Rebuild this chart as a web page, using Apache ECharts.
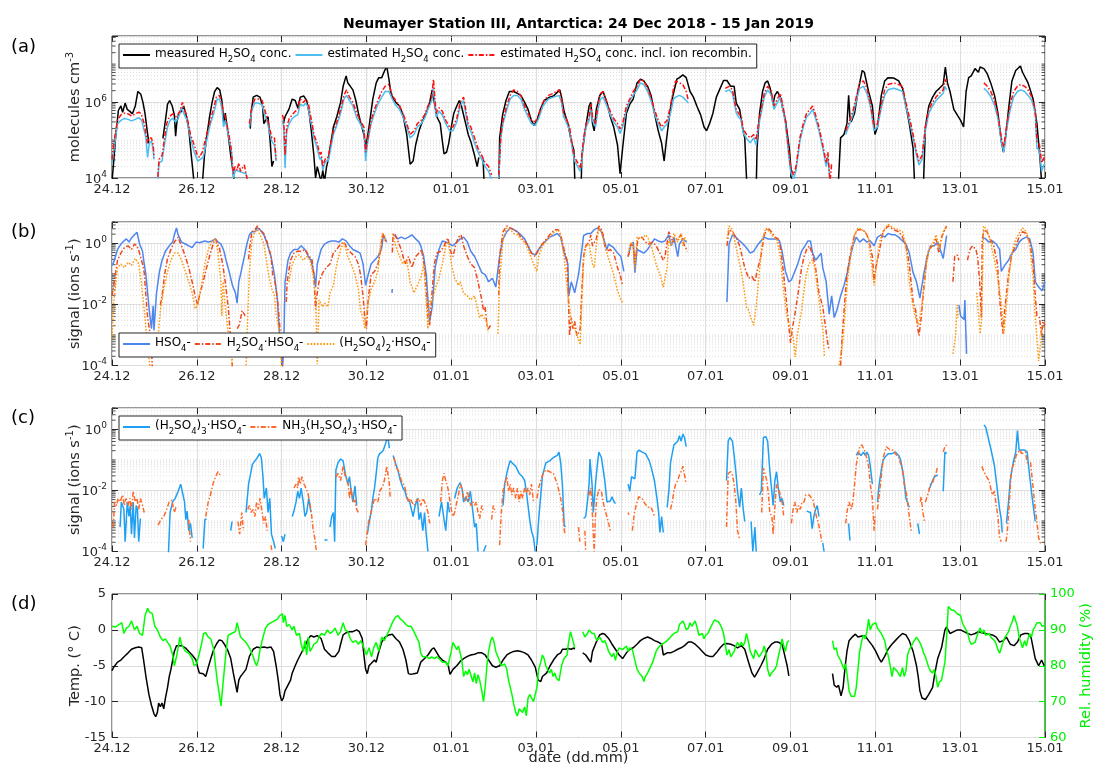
<!DOCTYPE html>
<html><head><meta charset="utf-8">
<script src="https://cdn.jsdelivr.net/npm/echarts@6/dist/echarts.min.js"></script>
<style>html,body{margin:0;padding:0;background:#fff}#c{width:1095px;height:765px}</style>
</head><body><div id="c"></div><script>
// x values: days since 24 Dec 2018 00:00
const dateLabels = ['24.12','26.12','28.12','30.12','01.01','03.01','05.01','07.01','09.01','11.01','13.01','15.01'];

// ---------- panel (a): H2SO4 concentration (molecules cm-3) ----------
const measuredH2SO4 = [[0,8e3],[0.03,2e4],[0.08,1e5],[0.15,6e5],[0.21,7.9e5],[0.25,5.4e5],[0.31,9.4e5],[0.36,6.4e5],[0.42,5.7e5],[0.48,4.9e5],[0.55,7.9e5],[0.61,1.9e6],[0.68,1.6e6],[0.73,9.8e5],[0.78,4.9e5],[0.83,1.75e5],[0.87,8.2e4],null,
[1.2,1.1e5],[1.26,3.3e5],[1.31,8.8e5],[1.36,1.1e6],[1.42,7.9e5],[1.47,4.6e5],[1.5,1.27e5],[1.53,3e5],[1.58,5.1e5],[1.64,5.7e5],[1.69,7.9e5],[1.74,4.9e5],[1.81,1.95e5],[1.87,3.9e4],[1.92,1.1e4],[1.95,5e3],null,
[2.12,5e3],[2.18,3.9e4],[2.23,1.14e5],[2.3,4.1e5],[2.36,9.8e5],[2.42,1.9e6],[2.48,2.4e6],[2.54,2.1e6],[2.59,1.1e6],[2.64,2.7e5],[2.67,5.1e5],[2.74,1.4e5],[2.8,3.9e4],[2.86,1.3e4],[2.9,5e3],null,
[3.26,2e5],[3.28,5.1e5],[3.33,1.35e6],[3.41,1.5e6],[3.49,1.35e6],[3.55,7.9e5],[3.58,2.7e5],[3.62,3.3e5],[3.68,4.1e5],[3.73,9.2e4],[3.77,2e4],[3.81,2.8e4],null,
[4.04,2.7e5],[4.08,4.1e5],[4.17,6.4e5],[4.25,1.2e6],[4.32,1.1e6],[4.38,7.1e5],[4.44,1.35e6],[4.52,1.45e6],[4.59,1.1e6],[4.65,5.1e5],[4.7,1.75e5],[4.76,3.9e4],[4.8,1e4],[4.84,2e4],[4.88,2e4],[4.93,8e3],[4.97,1.6e4],[5.01,8e3],[5.06,2e4],[5.1,3e4],[5.14,6e4],[5.22,2.2e5],[5.3,4.1e5],[5.39,9.8e5],[5.45,2.6e6],[5.52,4.9e6],[5.56,3.2e6],[5.62,2.6e6],[5.68,2.1e6],[5.75,1.1e6],[5.81,5.1e5],[5.87,2.7e5],[5.94,1.4e5],[5.98,6.6e4],[6.02,1.14e5],[6.06,2.2e5],[6.15,1.2e6],[6.23,3.2e6],[6.29,4.4e6],[6.36,4.4e6],[6.43,6.8e6],[6.48,8.4e6],[6.53,4e6],[6.57,1.9e6],[6.61,1.35e6],[6.69,9.8e5],[6.78,7.9e5],[6.86,4.6e5],[6.95,1.4e5],[7.03,2.3e4],[7.1,2.8e4],[7.16,7.4e4],[7.24,1.75e5],[7.33,3.3e5],[7.41,5.1e5],[7.49,9.8e5],[7.55,2.1e6],[7.6,9.8e5],[7.66,4.1e5],[7.74,2.7e5],[7.78,1.14e5],[7.83,4.3e4],[7.89,4.8e4],[7.94,8.2e4],[8.0,2.2e5],[8.06,5.1e5],[8.13,7.9e5],[8.19,1.1e6],[8.24,7.9e5],[8.3,4.1e5],[8.34,2.7e5],[8.4,1.4e5],[8.46,9.2e4],[8.55,3.9e4],[8.61,2e4],[8.65,3.5e4],null,
[8.75,3.1e4],[8.78,5e3],null,
[9.12,5e3],[9.14,1.14e5],[9.21,4.6e5],[9.29,1.1e6],[9.37,1.9e6],[9.47,1.9e6],[9.56,1.7e6],[9.64,1.5e6],[9.73,9.8e5],[9.81,6.4e5],[9.89,3.3e5],[9.95,2.4e5],[10.02,3.3e5],[10.1,6.4e5],[10.19,1.1e6],[10.32,1.35e6],[10.41,1.45e6],[10.56,2.1e6],[10.6,1.35e6],[10.66,5.7e5],[10.75,2.7e5],[10.83,9.2e4],[10.89,5.4e4],[10.92,5e3],null,
[11.06,5e3],[11.08,3.9e4],[11.17,2.2e5],[11.25,7.9e5],[11.29,9.8e5],[11.33,2.7e5],[11.37,1.75e5],[11.42,6.4e5],[11.5,1.5e6],[11.58,1.9e6],[11.67,9.8e5],[11.75,4.1e5],[11.83,2.2e5],[11.92,7.4e4],[11.98,1.3e4],[12.04,6e4],[12.13,5.1e5],[12.21,8.8e5],[12.29,1.2e6],[12.38,3.2e6],[12.46,4e6],[12.54,3.6e6],[12.63,2.6e6],[12.71,1.5e6],[12.79,5.1e5],[12.88,1.75e5],[12.96,8.2e4],[13.02,2.8e4],[13.07,9.2e4],[13.13,3.3e5],[13.19,9.8e5],[13.25,1.9e6],[13.32,4e6],[13.38,4.4e6],[13.46,5.2e6],[13.54,4.4e6],[13.63,1.9e6],[13.71,1.35e6],[13.79,7.9e5],[13.88,4.6e5],[13.96,2.2e5],[14.02,1.75e5],[14.09,2.7e5],[14.17,5.1e5],[14.25,1.35e6],[14.34,2.3e6],[14.42,3.7e6],[14.5,3.7e6],[14.59,2.6e6],[14.67,2.6e6],[14.72,9.4e5],[14.8,6.4e5],[14.88,1.75e5],[14.92,1.14e5],[14.96,1.1e4],[14.98,5e3],null,
[15.19,5e3],[15.21,6e4],[15.27,5.1e5],[15.34,1.9e6],[15.4,3.2e6],[15.46,3.6e6],[15.52,2.3e6],[15.59,8.8e5],[15.63,1.5e6],[15.69,1.9e6],[15.76,1.35e6],[15.82,6.4e5],[15.88,3.3e5],[15.97,6e4],[16.02,1.3e4],[16.05,5e3],null,
[17.12,5e3],[17.18,1.14e5],[17.26,1.4e5],[17.33,2.7e5],[17.37,1.5e6],[17.4,4e5],[17.43,3e5],[17.51,5.1e5],[17.59,1.9e6],[17.69,6.8e6],[17.74,6.1e6],[17.84,1.9e6],[17.93,7.9e5],[17.99,1.4e5],[18.05,2.2e5],[18.14,1.5e6],[18.22,3.6e6],[18.3,4.4e6],[18.43,4.3e6],[18.55,3.6e6],[18.64,2.3e6],[18.72,7.9e5],[18.8,2.7e5],[18.89,6e4],[18.93,5e3],null,
[19.13,5e3],[19.18,2.2e5],[19.26,7.9e5],[19.35,1.35e6],[19.43,1.9e6],[19.51,2.3e6],[19.6,2.9e6],[19.65,8.4e6],[19.7,3.2e6],[19.76,1.9e6],[19.85,6.4e5],[19.93,4.6e5],[20.01,3.3e5],[20.08,2.2e5],[20.14,1.9e6],[20.2,4.4e6],[20.26,4.9e6],[20.35,7.6e6],[20.43,6.1e6],[20.47,8.4e6],[20.56,7.6e6],[20.64,5.5e6],[20.72,3.2e6],[20.81,1.5e6],[20.89,5.1e5],[20.97,9.2e4],[21.02,4.8e4],[21.08,1.4e5],[21.14,6.4e5],[21.22,3.6e6],[21.31,6.8e6],[21.42,8.9e6],[21.47,6.1e6],[21.6,3.2e6],[21.72,1.2e6],[21.81,2.7e5],[21.89,2.5e4],[21.93,5e3]];

const estimatedH2SO4 = [[0,2.5e4],[0.06,7.4e4],[0.13,2.7e5],[0.21,3.3e5],[0.29,3.7e5],[0.38,3.5e5],[0.46,3.2e5],[0.55,3.5e5],[0.63,3.9e5],[0.7,3.3e5],[0.76,1.75e5],[0.8,1.14e5],[0.84,3.5e4],[0.88,8.2e4],[0.93,9.2e4],[0.97,6e4],[0.99,3.1e4],null,
[1.08,9e3],[1.11,2.5e4],[1.18,2.8e4],[1.24,8.2e4],[1.31,2.2e5],[1.37,3.3e5],[1.43,3.7e5],[1.5,3e5],[1.56,3.7e5],[1.64,7.1e5],[1.71,4.6e5],[1.77,3.3e5],[1.85,1.14e5],[1.94,4.8e4],[2.02,2.8e4],[2.06,2.5e4],[2.15,3.5e4],[2.23,9.2e4],[2.32,2.7e5],[2.4,5.1e5],[2.48,1.2e6],[2.54,1.16e6],[2.59,7.1e5],[2.63,2.2e5],[2.67,3.3e5],[2.74,1.4e5],[2.82,4.8e4],[2.86,1e4],[2.91,1.6e4],[2.99,1.5e4],[3.07,1.4e4],[3.16,1.3e4],[3.2,8e3],null,
[3.24,2.2e5],[3.3,6.4e5],[3.37,9.4e5],[3.45,9.4e5],[3.54,8.5e5],[3.6,4.6e5],[3.65,3.3e5],[3.71,1.75e5],[3.77,9.2e4],[3.83,7.4e4],[3.87,2.8e4],null,
[4.02,3.3e5],[4.05,2.2e5],[4.08,1.8e4],[4.12,1.75e5],[4.18,2.7e5],[4.25,3.7e5],[4.32,4.3e5],[4.38,4.6e5],[4.44,8.8e5],[4.51,7.9e5],[4.57,9.4e5],[4.63,7.1e5],[4.67,3.7e5],[4.72,2.2e5],[4.76,1.14e5],[4.84,6e4],[4.9,3.1e4],[4.93,3.5e4],[4.97,1.6e4],[5.01,2.3e4],[5.05,2.8e4],[5.1,2.8e4],[5.14,4.8e4],[5.22,1.4e5],[5.3,2.4e5],[5.39,5.1e5],[5.47,1.2e6],[5.53,1.5e6],[5.6,1.1e6],[5.68,7.9e5],[5.77,3.9e5],[5.85,2.7e5],[5.94,1.75e5],[5.98,2.8e4],[6.02,7.4e4],[6.11,2.7e5],[6.19,5.1e5],[6.27,8.8e5],[6.36,1.35e6],[6.44,1.9e6],[6.53,1.9e6],[6.61,1.2e6],[6.69,8.2e5],[6.78,6.4e5],[6.86,4.1e5],[6.95,2.2e5],[7.03,1.14e5],[7.12,1.4e5],[7.2,2.2e5],[7.29,2.7e5],[7.37,3.7e5],[7.45,6.4e5],[7.54,1.1e6],[7.58,2.3e6],[7.64,4.1e5],[7.71,5.7e5],[7.79,4.6e5],[7.87,2.7e5],[7.96,1.75e5],[8.04,1.75e5],[8.13,3e5],[8.21,7.9e5],[8.29,1.1e6],[8.34,5.1e5],[8.4,2.2e5],[8.46,1.75e5],[8.55,8.2e4],[8.63,4.8e4],[8.72,3.1e4],[8.8,2e4],[8.88,1.5e4],[8.95,9e3],null,
[9.12,1e4],[9.17,1.14e5],[9.22,2.7e5],[9.31,6.4e5],[9.39,1.2e6],[9.47,1.5e6],[9.56,1.5e6],[9.64,1.2e6],[9.73,6.4e5],[9.81,4.1e5],[9.89,2.7e5],[9.98,2.4e5],[10.06,3.7e5],[10.16,7.9e5],[10.29,1.2e6],[10.41,1.35e6],[10.54,1.5e6],[10.6,9.8e5],[10.65,4.1e5],[10.71,3e5],[10.79,1.75e5],[10.88,3.9e4],[10.91,2.8e4],[11.0,1.8e4],[11.04,1.5e4],[11.08,3.1e4],[11.12,9.2e4],[11.18,2.2e5],[11.25,3.3e5],[11.29,6.4e5],[11.33,3.3e5],[11.4,2.2e5],[11.46,6.4e5],[11.52,1.2e6],[11.58,1.35e6],[11.67,7.9e5],[11.75,4.6e5],[11.83,3e5],[11.92,2.2e5],[11.98,1.5e5],[12.04,2.2e5],[12.13,6.4e5],[12.21,1.1e6],[12.29,1.5e6],[12.38,2.1e6],[12.46,3.2e6],[12.54,2.9e6],[12.63,1.9e6],[12.71,1.1e6],[12.79,5.1e5],[12.88,2.7e5],[12.96,1.75e5],[13.02,2.2e5],[13.09,2.7e5],[13.17,5.1e5],[13.24,1.2e6],[13.29,1.35e6],[13.38,1.5e6],[13.46,1.35e6],[13.54,1.1e6],[13.59,9.4e5],null,
[14.46,1.9e6],[14.55,2.1e6],[14.63,1.7e6],[14.72,5.1e5],[14.77,4.1e5],[14.84,3.3e5],[14.88,1.6e5],[14.96,1.1e5],[15.05,8.5e4],[15.13,1.14e5],[15.19,7.4e4],[15.24,2.2e5],[15.3,4.6e5],[15.38,1.35e6],[15.46,2.1e6],[15.55,1.5e6],[15.61,6.4e5],[15.67,8.8e5],[15.76,1.35e6],[15.82,6.4e5],[15.88,2.7e5],[15.95,4.8e4],[16.0,1.5e4],[16.07,9e3],[16.13,1.6e4],[16.22,9.2e4],[16.3,2.2e5],[16.38,4.1e5],[16.46,5.1e5],[16.52,6.4e5],[16.59,3.7e5],[16.67,1.75e5],[16.76,6e4],[16.84,2e4],[16.88,3.5e4],[16.93,8e3],null,
[17.3,1.4e5],[17.38,2.4e5],[17.47,4.6e5],[17.55,1.1e6],[17.63,2.3e6],[17.72,2.6e6],[17.8,1.7e6],[17.88,7.9e5],[17.97,1.75e5],[18.05,2.2e5],[18.14,7.1e5],[18.22,1.5e6],[18.3,2.1e6],[18.43,2.3e6],[18.55,2.1e6],[18.64,1.9e6],[18.72,7.9e5],[18.8,3.3e5],[18.89,1.14e5],[18.97,3.9e4],[19.03,2.2e4],[19.1,3.1e4],[19.18,1.75e5],[19.26,5.1e5],[19.35,7.9e5],[19.43,1.1e6],[19.51,1.35e6],[19.6,1.7e6],[19.64,2.6e6],[19.68,2.1e6],null,
[20.56,2.3e6],[20.64,1.9e6],[20.72,1.4e6],[20.81,8.2e5],[20.89,3.7e5],[20.97,9.2e4],[21.03,4.8e4],[21.09,1.75e5],[21.18,6.4e5],[21.26,1.35e6],[21.35,1.9e6],[21.43,2.1e6],[21.52,1.9e6],[21.6,1.5e6],[21.69,1.1e6],[21.77,5.1e5],[21.81,6e4],[21.87,5.4e4],[21.92,1.5e4],[21.98,2.3e4],[22,2.2e4]];

const estimatedRecH2SO4 = [[0,3.1e4],[0.06,1.14e5],[0.13,3.3e5],[0.21,4.6e5],[0.29,5.1e5],[0.38,4.9e5],[0.46,4.3e5],[0.55,4.9e5],[0.63,5.4e5],[0.69,4.9e5],[0.76,2.7e5],[0.8,1.4e5],[0.84,8.2e4],[0.88,1.14e5],[0.93,1.14e5],[0.97,7.4e4],[0.99,3.5e4],null,
[1.08,1.07e4],[1.11,3.1e4],[1.18,3.9e4],[1.24,1.14e5],[1.29,2.7e5],[1.35,4.1e5],[1.43,4.9e5],[1.52,4.1e5],[1.6,5.7e5],[1.66,9.8e5],[1.71,6.4e5],[1.77,4.1e5],[1.85,1.4e5],[1.94,7.4e4],[2.0,4.3e4],[2.06,3.5e4],[2.13,4.8e4],[2.21,1.14e5],[2.32,3.3e5],[2.4,7.1e5],[2.46,1.35e6],[2.53,1.5e6],[2.59,9.8e5],[2.63,5.1e5],[2.67,4.1e5],[2.74,1.75e5],[2.8,7.4e4],[2.86,1.3e4],[2.9,2e4],[2.95,1.6e4],[2.99,2.5e4],[3.03,1.5e4],[3.07,1.8e4],[3.12,2.2e4],[3.16,2.3e4],[3.2,8e3],null,
[3.24,2.7e5],[3.3,7.9e5],[3.37,1.2e6],[3.45,1.2e6],[3.54,1.1e6],[3.6,6.4e5],[3.65,4.1e5],[3.71,2.2e5],[3.77,1.14e5],[3.83,1.14e5],[3.87,3.1e4],null,
[4.02,4.6e5],[4.05,3.3e5],[4.08,3.9e4],[4.12,2.2e5],[4.18,3.7e5],[4.25,4.6e5],[4.32,5.7e5],[4.38,6.4e5],[4.44,1.2e6],[4.51,9.8e5],[4.57,1.16e6],[4.63,9.4e5],[4.67,5.1e5],[4.72,2.7e5],[4.76,1.4e5],[4.84,8.2e4],[4.9,4e4],[4.93,4.8e4],[4.97,2e4],[5.01,2.8e4],[5.05,3.5e4],[5.1,3.5e4],[5.14,6.6e4],[5.22,1.75e5],[5.3,3e5],[5.39,6.4e5],[5.47,1.5e6],[5.53,2.1e6],[5.6,1.35e6],[5.68,9.8e5],[5.77,5.1e5],[5.85,3.3e5],[5.94,2.2e5],[5.98,4.8e4],[6.02,9.2e4],[6.11,3.3e5],[6.19,6.4e5],[6.27,1.1e6],[6.36,1.9e6],[6.44,2.6e6],[6.53,2.9e6],[6.61,1.5e6],[6.69,1.1e6],[6.78,7.9e5],[6.86,5.1e5],[6.95,2.7e5],[7.03,1.4e5],[7.12,1.75e5],[7.2,2.7e5],[7.29,3.3e5],[7.37,4.6e5],[7.45,7.9e5],[7.54,1.35e6],[7.58,4e6],[7.64,5.1e5],[7.71,7.1e5],[7.79,5.7e5],[7.87,3.3e5],[7.96,2.2e5],[8.04,2.2e5],[8.13,3.7e5],[8.21,9.8e5],[8.29,1.35e6],[8.34,6.4e5],[8.4,2.7e5],[8.46,2.2e5],[8.55,1.14e5],[8.63,6e4],[8.72,3.9e4],[8.8,2.5e4],[8.88,2e4],[8.95,1.2e4],null,
[9.12,1.2e4],[9.17,1.4e5],[9.22,3.3e5],[9.31,8.2e5],[9.39,1.5e6],[9.47,2.1e6],[9.56,1.9e6],[9.64,1.5e6],[9.73,7.9e5],[9.81,5.1e5],[9.89,3.3e5],[9.98,3e5],[10.06,4.6e5],[10.16,9.8e5],[10.29,1.5e6],[10.41,1.7e6],[10.54,2.1e6],[10.6,1.2e6],[10.65,5.1e5],[10.71,3.7e5],[10.79,2.2e5],[10.88,4.8e4],[10.91,3.5e4],[11.0,2.3e4],[11.04,1.8e4],[11.08,3.9e4],[11.12,1.14e5],[11.18,2.7e5],[11.25,4.1e5],[11.29,8.8e5],[11.33,4.1e5],[11.4,2.7e5],[11.46,8.8e5],[11.52,1.7e6],[11.58,1.9e6],[11.67,9.8e5],[11.75,5.7e5],[11.83,3.7e5],[11.92,2.7e5],[11.98,1.95e5],[12.04,2.7e5],[12.13,7.9e5],[12.21,1.2e6],[12.29,1.9e6],[12.38,2.6e6],[12.46,4e6],[12.54,3.6e6],[12.63,2.3e6],[12.71,1.35e6],[12.79,6.4e5],[12.88,3.3e5],[12.96,2.2e5],[13.02,2.7e5],[13.09,3.3e5],[13.17,7.9e5],[13.24,2.3e6],[13.29,3.6e6],[13.38,3.2e6],[13.46,2.9e6],[13.54,1.9e6],[13.59,1.1e6],null,
[14.46,2.3e6],[14.55,2.6e6],[14.63,2.1e6],[14.72,6.4e5],[14.77,5.1e5],[14.84,4.1e5],[14.88,2e5],[14.96,1.4e5],[15.05,1.14e5],[15.13,1.4e5],[15.19,1e5],[15.24,2.7e5],[15.3,5.7e5],[15.38,1.7e6],[15.46,2.6e6],[15.55,1.9e6],[15.61,7.9e5],[15.67,1.1e6],[15.76,1.7e6],[15.82,7.9e5],[15.88,3.3e5],[15.95,6e4],[16.0,2e4],[16.07,1.2e4],[16.13,2e4],[16.22,1.14e5],[16.3,2.7e5],[16.38,5.1e5],[16.46,6.4e5],[16.52,7.9e5],[16.59,4.6e5],[16.67,2.2e5],[16.76,7.4e4],[16.84,2.5e4],[16.88,4.8e4],[16.93,8e3],[16.97,2.5e4],null,
[17.3,1.75e5],[17.38,3e5],[17.47,5.7e5],[17.55,1.35e6],[17.63,3.2e6],[17.72,3.6e6],[17.8,2.3e6],[17.88,9.8e5],[17.97,2.2e5],[18.05,2.7e5],[18.14,8.8e5],[18.22,2.1e6],[18.3,2.9e6],[18.43,3.2e6],[18.55,2.9e6],[18.64,2.6e6],[18.72,9.8e5],[18.8,4.1e5],[18.89,1.4e5],[18.97,4.8e4],[19.03,2.8e4],[19.1,3.9e4],[19.18,2.2e5],[19.26,6.4e5],[19.35,9.8e5],[19.43,1.35e6],[19.51,1.7e6],[19.6,2.1e6],[19.64,4e6],[19.68,2.9e6],null,
[20.56,3.2e6],[20.64,2.6e6],[20.72,1.9e6],[20.81,1.1e6],[20.89,4.6e5],[20.97,1.14e5],[21.03,6.6e4],[21.09,2.2e5],[21.18,8.8e5],[21.26,1.9e6],[21.35,2.6e6],[21.43,2.9e6],[21.52,2.6e6],[21.6,2.1e6],[21.69,1.35e6],[21.77,6.4e5],[21.81,9.2e4],[21.87,7.4e4],[21.92,2.5e4],[21.98,3.5e4],[22,3.1e4]];

// ---------- panel (b): signals (ions s-1) ----------
const hso4 = [[0,0.19],[0.04,0.24],[0.13,0.63],[0.21,0.95],[0.28,1.2],[0.34,1.4],[0.4,1.1],[0.46,1.5],[0.53,1.9],[0.59,2.3],[0.65,0.95],[0.72,0.55],[0.76,0.21],[0.8,0.095],[0.84,0.024],[0.88,0.0063],[0.93,0.0016],[0.97,0.009],[0.99,0.0014],[1.05,0.024],[1.12,0.12],[1.18,0.28],[1.26,0.55],[1.35,0.83],[1.43,1.1],[1.47,1.9],[1.52,3.2],[1.56,1.9],[1.64,1.1],[1.73,0.95],[1.81,0.83],[1.89,0.72],[1.98,1.1],[2.06,1.05],[2.19,1.2],[2.27,1.1],[2.36,1.2],[2.44,1.4],[2.5,1.1],[2.57,0.95],[2.64,0.55],[2.69,0.28],[2.78,0.095],[2.84,0.042],[2.91,0.024],[2.95,0.011],[2.99,0.055],[3.03,0.095],[3.12,0.37],[3.18,0.95],[3.24,1.9],[3.3,2.4],[3.37,2.4],[3.43,3.2],[3.49,2.8],[3.58,1.9],[3.66,0.95],[3.75,0.37],[3.83,0.095],[3.9,0.014],[3.94,0.0016],[3.98,4.2e-4],[4.02,8e-5],[4.05,4.2e-4],[4.08,0.055],[4.15,0.28],[4.21,0.48],[4.29,0.63],[4.38,0.63],[4.46,0.83],[4.55,0.63],[4.63,0.37],[4.69,0.28],[4.76,0.11],[4.8,0.037],[4.84,0.21],[4.93,0.63],[5.01,0.95],[5.09,1.1],[5.18,1.2],[5.26,1.2],[5.35,1.1],[5.43,1.4],[5.52,1.2],[5.6,0.83],[5.68,0.63],[5.77,0.55],[5.85,0.48],[5.92,0.21],[5.98,0.042],[6.02,0.072],[6.11,0.21],[6.19,0.28],[6.27,0.37],[6.36,0.72],[6.4,1.9],[6.44,2.1],[6.48,1.1],null,
[6.6,0.024],[6.61,0.032],null,
[6.65,1.9],[6.74,1.4],[6.82,1.6],[6.91,1.4],[6.99,1.6],[7.07,1.9],[7.16,1.4],[7.24,1.1],[7.28,0.83],[7.35,0.37],[7.41,0.095],[7.45,0.014],[7.49,0.0028],[7.55,0.0083],[7.62,0.16],[7.71,0.63],[7.79,1.2],[7.87,1.1],[7.96,0.95],[8.04,0.83],[8.13,1.1],[8.21,1.4],[8.29,1.6],[8.38,1.1],[8.46,0.55],[8.55,0.37],[8.63,0.21],[8.72,0.11],[8.8,0.095],[8.88,0.055],[8.97,0.072],[9.05,0.037],[9.14,0.37],[9.22,1.4],[9.31,2.4],[9.39,3.2],[9.47,2.8],[9.56,2.4],[9.64,1.9],[9.73,1.4],[9.81,0.83],[9.89,0.48],[9.98,0.42],[10.06,0.63],[10.15,0.95],[10.32,1.6],[10.41,1.8],[10.5,2.1],[10.58,1.6],[10.66,0.48],[10.75,0.21],[10.77,0.019],[10.83,0.055],[10.87,0.037],[10.91,0.024],[11.0,0.095],[11.08,0.63],[11.12,1.8],[11.21,2.1],[11.29,2.1],[11.37,2.8],[11.46,3.2],[11.54,2.4],[11.58,1.6],[11.67,0.63],[11.71,0.95],[11.75,0.83],[11.83,0.72],[11.92,0.48],[12.0,0.37],[12.07,0.12],null,
[12.17,0.37],[12.23,0.83],[12.29,1.1],[12.33,0.11],[12.38,0.63],[12.46,0.55],[12.54,0.48],[12.63,0.63],[12.71,0.95],[12.79,1.4],[12.88,1.2],[12.96,1.1],[13.04,1.2],[13.13,1.9],[13.19,0.83],[13.25,1.6],[13.34,0.37],[13.38,0.95],[13.46,1.4],[13.55,1.1],null,
[14.5,0.012],[14.55,0.95],[14.63,1.9],[14.71,1.6],[14.8,1.2],[14.88,0.95],[14.96,0.72],[15.05,0.48],[15.13,0.55],[15.21,0.83],[15.3,1.2],[15.38,1.6],[15.46,1.4],[15.59,1.4],[15.67,1.4],[15.74,1.2],[15.8,0.55],[15.88,0.12],[15.96,0.055],[16.02,0.063],[16.09,0.11],[16.17,0.21],[16.26,0.55],[16.34,0.83],[16.41,1.2],[16.47,1.2],[16.52,0.48],[16.59,0.28],[16.66,0.37],[16.72,0.48],[16.76,0.16],[16.84,0.055],[16.91,0.0048],[16.97,0.019],[17.03,0.0037],[17.09,0.0063],[17.18,0.019],[17.26,0.042],[17.34,0.11],[17.41,0.37],[17.47,0.83],[17.55,1.6],[17.63,1.1],[17.72,1.4],[17.8,1.1],[17.88,1.2],[17.97,0.83],[18.05,1.6],[18.14,1.9],[18.22,1.6],[18.3,2.1],[18.39,1.9],[18.47,1.9],[18.55,1.6],[18.64,1.2],[18.72,0.95],[18.8,0.48],[18.89,0.11],[18.97,0.055],[19.05,0.016],[19.14,0.095],[19.22,0.37],[19.3,0.83],[19.39,0.83],[19.47,1.1],[19.51,1.2],[19.6,0.32],[19.68,1.8],null,
[19.97,0.0095],[20.01,0.0042],[20.05,0.0037],[20.09,0.0032],[20.11,0.014],[20.15,2.4e-4],null,
[20.51,1.6],[20.6,1.4],[20.68,1.1],[20.76,1.2],[20.85,0.95],[20.93,0.63],[20.97,0.12],[21.05,0.19],[21.14,0.28],[21.22,0.48],[21.31,0.63],[21.39,1.1],[21.47,1.4],[21.56,1.6],[21.64,1.4],[21.72,0.48],[21.77,0.055],[21.85,0.037],[21.89,0.042],[21.93,0.028],[22,0.055]];

const h2so4Hso4 = [[0,0.019],[0.04,0.042],[0.13,0.28],[0.21,0.48],[0.29,0.72],[0.38,0.83],[0.46,0.63],[0.53,0.95],[0.59,0.83],[0.65,0.48],[0.72,0.21],[0.76,0.11],[0.8,0.019],[0.84,0.0037],[0.88,0.0016],[0.93,5.5e-4],[0.95,8e-5],null,
[1.14,0.0095],[1.18,0.019],[1.24,0.095],[1.31,0.32],[1.39,0.63],[1.47,1.1],[1.56,1.6],[1.6,1.1],[1.64,0.83],[1.73,0.37],[1.81,0.16],[1.89,0.055],[1.96,0.019],[2.02,0.0095],[2.06,0.019],[2.15,0.055],[2.23,0.16],[2.32,0.48],[2.4,1.1],[2.44,1.4],[2.48,0.95],[2.53,0.72],[2.61,0.21],[2.67,0.055],[2.74,0.0083],[2.78,0.0016],[2.82,2.4e-4],[2.84,8e-5],null,
[2.95,0.0016],[3.0,0.0021],[3.07,0.0063],[3.14,0.0042],null,
[3.22,0.3],[3.24,0.63],[3.3,2.4],[3.37,2.8],[3.43,3.7],[3.49,2.8],[3.58,2.1],[3.66,1.1],[3.75,0.37],[3.79,0.095],[3.83,0.072],[3.87,0.032],[3.92,0.0083],[3.96,0.0016],[4.0,2.4e-4],[4.02,8e-5],null,
[4.11,0.012],[4.13,0.055],[4.21,0.28],[4.29,0.48],[4.38,0.55],[4.46,0.55],[4.55,0.63],[4.63,0.42],[4.72,0.28],[4.76,0.083],[4.8,0.0072],[4.84,0.024],[4.88,0.055],[4.97,0.11],[5.05,0.16],[5.14,0.21],[5.22,0.48],[5.3,0.63],[5.39,0.95],[5.47,1.1],[5.56,0.63],[5.64,0.48],[5.73,0.37],[5.81,0.21],[5.86,0.095],[5.92,0.019],[5.96,0.0037],[6.0,0.0016],[6.04,0.014],[6.11,0.095],[6.19,0.12],[6.27,0.21],[6.34,0.63],[6.38,2.1],[6.42,1.9],[6.46,1.1],null,
[6.61,0.5],[6.63,2.1],[6.68,1.9],[6.74,1.2],[6.82,0.63],[6.91,0.21],[6.99,0.37],[7.07,0.16],[7.16,0.37],[7.24,0.48],[7.3,0.63],[7.37,0.16],[7.41,0.032],[7.45,0.0037],[7.49,0.0021],[7.54,0.019],[7.6,0.21],[7.66,0.48],[7.75,0.55],[7.83,0.83],[7.92,1.5],[7.97,0.63],[8.04,0.37],[8.11,0.95],[8.17,1.6],[8.23,1.9],[8.29,0.83],[8.38,0.37],[8.46,0.21],[8.55,0.16],[8.63,0.055],[8.72,0.014],[8.76,0.0063],[8.8,0.0083],[8.84,0.0021],[8.88,0.0016],[8.93,0.0021],null,
[9.12,0.02],[9.14,0.37],[9.22,2.4],[9.31,3.7],[9.39,3.2],[9.47,2.8],[9.56,2.4],[9.64,1.6],[9.73,1.2],[9.81,0.83],[9.89,0.48],[9.98,0.37],[10.06,0.63],[10.15,0.95],[10.32,1.9],[10.44,2.8],[10.52,2.8],[10.58,1.9],[10.66,0.63],[10.73,0.28],[10.76,0.019],[10.79,9.5e-4],[10.83,0.0037],[10.87,0.0016],[10.91,0.0028],[10.96,9.5e-4],[11.0,0.0012],[11.04,0.0016],[11.08,0.032],[11.12,0.37],[11.17,0.83],[11.25,1.1],[11.29,1.9],[11.33,0.83],[11.42,1.4],[11.48,3.7],[11.54,2.8],[11.58,1.9],[11.62,0.83],[11.67,0.55],[11.75,0.63],[11.83,0.48],[11.92,0.16],[11.98,0.095],[12.04,0.042],null,
[12.17,0.37],[12.23,0.95],[12.29,0.83],[12.33,0.21],[12.4,1.4],[12.5,1.6],[12.58,1.1],[12.65,0.95],[12.75,1.1],[12.83,0.83],[12.92,0.48],[13.0,0.28],[13.04,0.37],[13.13,2.4],[13.19,1.4],[13.25,1.1],[13.34,1.4],[13.42,1.9],[13.5,0.83],[13.57,0.55],null,
[14.5,0.83],[14.55,2.8],[14.63,2.4],[14.71,1.6],[14.8,0.83],[14.84,0.95],[14.92,0.16],[15.01,0.072],[15.09,0.083],[15.16,0.055],[15.21,0.12],[15.3,0.37],[15.38,1.9],[15.46,3.2],[15.55,2.4],[15.63,1.6],[15.71,1.4],[15.77,0.63],[15.83,0.12],[15.9,0.014],[15.96,0.0019],[16.0,5.5e-4],[16.05,0.0019],[16.09,0.0037],[16.17,0.019],[16.26,0.16],[16.32,0.37],[16.38,0.63],[16.44,0.83],[16.51,0.48],[16.59,0.16],[16.67,0.024],[16.76,0.0083],[16.83,0.0016],[16.89,4.2e-4],[16.91,3.2e-4],null,
[17.18,1e-4],[17.22,9.5e-4],[17.28,0.014],[17.34,0.12],[17.43,0.63],[17.51,1.9],[17.59,2.8],[17.68,2.8],[17.76,2.4],[17.84,1.4],[17.93,0.37],[17.97,0.055],[18.01,0.16],[18.1,0.63],[18.18,2.4],[18.3,3.7],[18.43,2.8],[18.55,2.4],[18.64,1.6],[18.72,0.83],[18.8,0.21],[18.89,0.012],[18.95,0.0063],[19.0,0.0016],[19.03,9.5e-4],[19.08,0.0037],[19.14,0.032],[19.2,0.21],[19.26,0.63],[19.35,0.83],[19.43,1.4],[19.5,0.48],[19.56,1.6],[19.64,2.8],[19.68,3.7],null,
[19.83,0.055],[19.87,0.37],[19.93,0.42],[19.97,0.28],null,
[20.17,0.28],[20.23,0.63],[20.29,0.83],[20.37,0.63],[20.41,0.37],[20.46,0.055],[20.5,0.0037],[20.52,1.2],[20.56,2.8],[20.63,2.4],[20.71,1.4],[20.79,0.83],[20.88,0.21],[20.92,0.024],[20.97,0.0037],[21.01,0.0011],[21.05,0.0063],[21.14,0.095],[21.22,0.48],[21.31,0.83],[21.39,1.6],[21.47,2.4],[21.56,2.1],[21.64,1.1],[21.72,0.21],[21.77,0.019],[21.81,0.0042],[21.87,0.0037],[21.92,9.5e-4],[21.95,0.0028],[22,0.0021]];

const h2so4x2Hso4 = [[0,7.2e-4],[0.04,0.011],[0.13,0.16],[0.21,0.21],[0.29,0.16],[0.38,0.24],[0.46,0.19],[0.55,0.32],[0.63,0.21],[0.69,0.055],[0.76,0.0063],[0.8,0.0016],[0.84,4.2e-4],[0.9,8e-5],null,
[1.05,2.4e-4],[1.14,0.0063],[1.22,0.032],[1.31,0.12],[1.39,0.28],[1.47,0.48],[1.56,0.48],[1.64,0.28],[1.73,0.12],[1.81,0.055],[1.89,0.024],[1.96,0.0072],[2.02,0.0095],[2.11,0.042],[2.19,0.21],[2.27,0.63],[2.36,1.2],[2.44,1.4],[2.5,0.48],[2.57,0.055],[2.59,0.0042],[2.62,0.055],[2.67,0.0083],[2.74,0.0012],[2.82,1.9e-4],[2.84,8e-5],null,
[3.16,8e-5],[3.2,0.0037],[3.24,0.12],[3.3,1.2],[3.37,2.4],[3.43,2.8],[3.49,1.9],[3.58,0.95],[3.64,0.28],[3.7,0.083],[3.77,0.032],[3.83,0.019],[3.87,0.0048],[3.92,0.0021],[3.96,7.2e-4],[4.0,8e-5],null,
[4.17,0.055],[4.25,0.21],[4.34,0.37],[4.42,0.42],[4.51,0.28],[4.59,0.37],[4.67,0.28],[4.74,0.095],[4.8,0.019],[4.84,1.1e-4],[4.88,0.014],[4.97,0.0083],[5.02,0.011],[5.09,0.0083],[5.14,0.024],[5.22,0.042],[5.3,0.21],[5.39,0.63],[5.47,1.1],[5.56,0.37],[5.64,0.21],[5.73,0.095],[5.81,0.032],[5.86,0.0063],[5.92,0.0037],[5.96,0.0016],[6.0,0.0016],[6.04,0.011],[6.11,0.032],[6.19,0.055],[6.27,0.12],[6.33,0.83],[6.37,2.1],[6.42,1.9],[6.46,1.1],null,
[6.63,1.9],[6.69,0.83],[6.78,0.37],[6.86,0.21],[6.95,0.28],[7.03,0.055],[7.12,0.024],[7.2,0.042],[7.28,0.072],[7.35,0.21],[7.41,0.012],[7.45,0.0016],[7.49,0.014],[7.54,0.011],[7.62,0.032],[7.71,0.072],[7.79,0.21],[7.87,0.83],[7.94,1.1],[8.0,0.21],[8.08,0.072],[8.17,0.042],[8.21,0.055],[8.29,0.024],[8.38,0.019],[8.46,0.014],[8.55,0.019],[8.63,0.0063],[8.67,0.0037],[8.72,0.0048],[8.76,0.0037],[8.8,0.0037],[8.84,0.0028],[8.87,0.0012],null,
[9.1,0.0011],[9.14,0.055],[9.22,1.4],[9.31,3.2],[9.39,2.8],[9.47,2.1],[9.56,1.9],[9.64,1.4],[9.73,1.1],[9.81,0.63],[9.89,0.32],[9.98,0.16],[10.02,0.12],[10.06,0.37],[10.15,0.83],[10.32,1.6],[10.44,2.4],[10.52,2.8],[10.58,1.9],[10.66,0.37],[10.7,0.095],[10.76,0.016],[10.83,0.0028],[10.91,0.0016],[11.0,7.2e-4],[11.04,4.8e-4],[11.08,0.014],[11.12,0.28],[11.17,0.83],[11.25,0.95],[11.29,1.1],[11.33,0.21],[11.37,0.16],[11.42,0.83],[11.48,3.2],[11.54,2.4],[11.58,1.4],[11.67,0.48],[11.75,0.21],[11.83,0.095],[11.92,0.028],[12.0,0.014],[12.06,0.011],null,
[12.17,0.48],[12.25,1.1],[12.29,0.83],[12.33,0.14],[12.38,1.6],[12.5,1.4],[12.58,1.9],[12.65,1.4],[12.75,0.55],[12.83,0.21],[12.92,0.095],[13.0,0.037],[13.04,0.042],[13.09,0.16],[13.13,1.4],[13.19,0.83],[13.25,2.1],[13.34,1.1],[13.42,2.1],[13.46,0.83],[13.5,1.6],[13.54,1.2],null,
[14.5,1.4],[14.55,3.7],[14.63,2.8],[14.71,0.83],[14.8,0.21],[14.88,0.055],[14.96,0.0083],[15.02,0.0063],[15.06,0.0037],[15.13,0.0021],[15.19,0.0083],[15.26,0.095],[15.34,1.4],[15.42,3.2],[15.51,2.4],[15.59,1.6],[15.67,1.4],[15.76,0.37],[15.84,0.024],[15.92,0.0037],[16.0,0.0016],[16.07,7.2e-4],[16.11,1.9e-4],[16.17,0.0012],[16.26,0.0063],[16.34,0.055],[16.43,0.21],[16.51,0.28],[16.57,0.16],[16.67,0.014],[16.76,0.0016],[16.8,1.9e-4],null,
[17.13,8e-5],[17.22,4.2e-4],[17.28,0.0037],[17.34,0.055],[17.43,0.48],[17.51,1.9],[17.59,3.2],[17.68,2.8],[17.76,2.4],[17.84,1.4],[17.91,0.21],[17.97,0.042],[18.01,0.12],[18.1,1.1],[18.18,2.4],[18.3,4.2],[18.43,3.2],[18.55,2.8],[18.64,2.4],[18.72,0.83],[18.8,0.055],[18.89,0.0083],[18.95,0.0037],[19.02,0.0021],[19.08,0.0063],[19.14,0.032],[19.2,0.21],[19.26,0.63],[19.35,0.95],[19.43,1.9],[19.51,0.72],[19.6,2.4],[19.68,3.7],null,
[19.83,2.4e-4],[19.89,9.5e-4],[19.93,0.0095],[19.95,0.0037],null,
[20.39,0.024],[20.47,0.0011],[20.51,0.0037],[20.55,3.7],[20.59,4.2],[20.63,2.8],[20.71,1.2],[20.79,0.37],[20.88,0.083],[20.97,0.011],[21.03,0.0011],[21.08,0.0063],[21.14,0.063],[21.22,0.48],[21.31,1.4],[21.39,2.1],[21.47,3.2],[21.56,2.4],[21.64,0.83],[21.72,0.072],[21.77,0.0037],[21.81,8.3e-4],[21.85,1.4e-4],[21.89,4.2e-4],[21.93,0.0016],[22,0.0021]];

// ---------- panel (c) ----------
const h2so4x3Hso4 = [[0.19,6.3e-4],[0.22,0.0042],[0.28,0.0024],[0.31,2.1e-4],[0.36,0.0042],[0.4,0.0014],[0.43,0.0032],[0.46,3.7e-4],[0.5,0.0042],[0.53,2.8e-4],[0.57,0.0032],[0.6,0.0024],[0.63,2.1e-4],[0.67,0.0012],null,
[1.33,8e-5],[1.37,0.0019],[1.43,0.0042],[1.49,0.0055],[1.56,0.0094],[1.62,0.016],[1.66,0.014],[1.71,0.0042],[1.74,0.0011],[1.77,0.0021],[1.81,4.8e-4],[1.85,8.3e-4],[1.89,2.8e-4],null,
[2.15,1.25e-4],[2.19,0.0011],[2.23,0.0012],null,
[2.8,4.8e-4],[2.83,9.6e-4],null,
[3.16,0.0019],[3.22,0.016],[3.27,0.036],[3.31,0.071],[3.37,0.093],[3.43,0.12],[3.48,0.16],[3.52,0.12],[3.56,0.028],[3.59,0.0055],[3.64,0.012],[3.68,0.0019],[3.72,0.0055],[3.76,3.7e-4],[3.81,2.1e-4],[3.85,1.25e-4],null,
[4.0,3.2e-4],[4.04,2.1e-4],[4.08,3.7e-4],null,
[4.25,0.0014],[4.29,0.0021],[4.34,0.0042],[4.38,0.0094],[4.42,0.0055],[4.46,0.012],[4.51,0.0042],[4.55,0.0014],[4.59,0.0019],[4.64,0.0055],[4.69,0.0019],null,
[5.01,2.4e-4],[5.08,2.4e-4],null,
[5.14,6.3e-4],[5.18,0.0014],[5.22,0.0019],[5.25,2.1e-4],[5.28,0.047],[5.33,0.081],[5.39,0.107],[5.45,0.093],[5.5,0.036],[5.56,0.016],[5.6,0.028],[5.64,0.0094],[5.68,0.0042],[5.73,0.014],[5.77,0.0032],null,
[6.02,3.7e-4],[6.06,8.3e-4],[6.11,0.0019],[6.15,0.0055],[6.19,0.012],[6.23,0.036],[6.27,0.12],[6.31,0.16],[6.36,0.18],[6.4,0.21],[6.44,0.31],[6.48,0.47],[6.5,0.7],[6.54,0.24],null,
[6.63,0.14],[6.68,0.081],[6.74,0.047],[6.8,0.021],[6.86,0.012],[6.91,0.0094],[6.95,0.0055],[7.02,0.0042],[7.06,0.0024],[7.1,0.0014],[7.14,0.0028],[7.2,0.0055],[7.24,0.0011],[7.28,0.0019],[7.33,4.8e-4],[7.37,0.0019],[7.41,3.7e-4],[7.45,1e-4],null,
[7.71,0.0014],[7.77,0.0042],[7.83,0.0011],[7.87,4.8e-4],[7.92,0.0042],[7.96,0.0019],null,
[8.08,0.0055],[8.14,0.012],[8.21,0.018],[8.26,0.0107],[8.29,0.0042],[8.34,0.0062],[8.4,0.0042],[8.45,0.0094],[8.51,0.0019],[8.55,6.3e-4],[8.59,8.3e-4],[8.63,1e-4],null,
[8.76,1e-4],[8.82,1.6e-4],null,
[9.22,0.0032],[9.26,0.016],[9.31,0.036],[9.35,0.062],[9.39,0.093],[9.43,0.081],[9.47,0.071],[9.52,0.062],[9.56,0.047],[9.6,0.036],[9.64,0.041],[9.68,0.028],[9.73,0.021],[9.77,0.0094],[9.81,0.0032],[9.85,0.0011],[9.89,4.8e-4],[9.94,2.8e-4],[9.98,1e-4],null,
[10.02,1.6e-4],[10.06,0.0011],[10.15,0.03],[10.23,0.08],[10.32,0.093],[10.41,0.12],[10.5,0.14],[10.54,0.18],[10.58,0.081],[10.62,0.016],[10.66,8.3e-4],[10.68,6.3e-4],null,
[11.12,0.0012],[11.17,0.0014],[11.21,0.0042],[11.25,0.016],[11.27,0.107],[11.32,0.016],[11.35,0.0019],[11.4,0.016],[11.44,0.062],[11.48,0.18],[11.54,0.12],[11.58,0.107],[11.62,0.021],[11.67,0.0042],[11.71,0.0048],[11.75,0.0045],[11.79,0.0062],[11.83,0.0045],[11.87,0.0037],null,
[12.17,0.016],[12.21,0.0094],[12.25,0.028],[12.29,0.032],[12.33,0.024],[12.38,0.18],[12.43,0.21],[12.5,0.18],[12.58,0.16],[12.67,0.093],[12.73,0.047],[12.79,0.021],[12.85,0.0055],[12.89,0.0019],[12.92,4.2e-4],[12.96,0.0014],[13.0,4.2e-4],null,
[13.09,0.0028],[13.13,0.0094],[13.17,0.081],[13.21,0.071],[13.25,0.31],[13.29,0.27],[13.34,0.41],[13.38,0.62],[13.42,0.41],[13.46,0.7],[13.5,0.54],[13.54,0.27],null,
[14.49,0.021],[14.53,0.41],[14.57,0.54],[14.63,0.41],[14.67,0.14],[14.71,0.041],[14.75,0.0094],[14.8,0.0028],[14.84,0.012],[14.88,0.0028],[14.92,9.6e-4],null,
[15.07,9.6e-4],[15.11,1e-4],[15.16,6.3e-4],[15.19,1e-4],null,
[15.27,0.0071],[15.31,0.0094],[15.36,0.54],[15.42,0.57],[15.46,0.41],[15.51,0.047],[15.55,0.012],[15.59,0.0032],[15.63,0.021],[15.67,0.041],[15.71,0.012],[15.76,0.0042],[15.8,0.0055],[15.84,0.0032],null,
[16.38,0.0021],[16.42,0.0024],[16.47,0.0019],[16.51,5.6e-4],[16.55,0.0014],[16.59,0.0024],[16.63,0.0032],[16.67,0.0014],null,
[16.76,1.9e-4],[16.79,1e-4],null,
[17.37,8.3e-4],[17.4,2.3e-4],null,
[17.55,0.14],[17.59,0.18],[17.66,0.14],[17.72,0.18],[17.76,0.14],[17.8,0.18],[17.84,0.14],[17.88,0.062],[17.93,0.016],null,
[18.05,0.0042],[18.09,0.016],[18.14,0.047],[18.18,0.093],[18.22,0.12],[18.3,0.16],[18.39,0.16],[18.47,0.18],[18.55,0.14],[18.59,0.107],[18.64,0.047],[18.68,0.021],[18.72,0.0055],[18.76,0.0055],[18.8,0.0028],null,
[19.0,8.3e-4],[19.04,3.7e-4],null,
[19.26,0.0107],[19.3,0.014],[19.35,0.021],[19.39,0.028],[19.43,0.032],[19.47,0.032],null,
[19.6,0.0094],[19.64,0.18],[19.68,0.16],null,
[20.56,1.4],[20.6,1.2],[20.64,0.7],[20.72,0.24],[20.81,0.062],[20.89,0.0071],[20.93,0.0024],[20.97,0.0011],[20.99,4.2e-4],null,
[21.09,8.3e-4],[21.14,0.0042],[21.18,0.021],[21.22,0.047],[21.27,0.107],[21.31,0.18],[21.35,0.92],[21.39,0.21],[21.43,0.21],[21.52,0.21],[21.58,0.18],[21.64,0.028],[21.7,0.0055],[21.77,9.6e-4]];

const nh3H2so4x3Hso4 = [[0.03,6.3e-4],[0.06,0.0042],[0.11,0.0032],[0.14,0.0055],[0.19,0.0042],[0.25,0.0071],[0.29,0.0032],[0.33,0.0055],[0.38,0.0032],[0.42,0.0055],[0.46,0.0024],[0.5,0.0094],[0.55,0.0042],[0.59,0.0055],[0.63,0.0024],[0.67,0.0055],[0.72,0.0032],[0.76,0.0019],null,
[1.09,7.3e-4],[1.15,0.0011],[1.22,0.0014],[1.29,0.0024],[1.35,0.0042],[1.41,0.0048],[1.47,0.0019],[1.52,0.0032],null,
[1.81,0.0011],[1.85,2.1e-4],null,
[2.21,0.0014],[2.27,0.0042],[2.32,0.0071],[2.38,0.016],[2.44,0.028],[2.5,0.041],[2.55,0.032],null,
[2.97,9.6e-4],[3.01,3.7e-4],[3.06,0.0019],[3.1,4.8e-4],null,
[3.2,0.0024],[3.24,0.0032],[3.28,0.0019],[3.33,0.0024],[3.37,0.0014],[3.41,0.0042],[3.45,0.0024],[3.49,0.0055],[3.54,0.0019],[3.58,8.3e-4],[3.62,0.0014],[3.66,4.8e-4],null,
[3.75,1.6e-4],[3.78,8e-5],null,
[4.29,0.012],[4.34,0.016],[4.38,0.012],[4.4,0.028],[4.44,0.016],[4.48,0.028],[4.53,0.016],[4.57,0.018],[4.62,0.0082],[4.66,0.0042],[4.7,0.0019],[4.74,5.6e-4],[4.78,2.8e-4],[4.82,1e-4],null,
[5.28,0.028],[5.33,0.036],[5.39,0.021],[5.45,0.062],[5.5,0.028],[5.56,0.021],[5.6,0.0055],[5.64,0.012],[5.68,0.0042],[5.73,0.0048],[5.77,0.0024],[5.81,0.0019],null,
[5.98,1.6e-4],[6.02,4.2e-4],[6.06,0.0011],[6.11,0.0019],[6.15,0.0032],[6.19,0.0055],[6.23,0.0055],[6.27,0.0042],[6.31,0.0094],[6.36,0.012],[6.4,0.016],[6.44,0.028],[6.48,0.062],[6.54,0.016],[6.56,0.0055],null,
[6.65,0.12],[6.69,0.062],[6.74,0.047],[6.78,0.036],[6.82,0.021],[6.86,0.018],[6.91,0.012],[6.95,0.0071],[6.99,0.0042],[7.03,0.0055],[7.07,0.0042],[7.12,0.0032],[7.16,0.0042],[7.2,0.0048],[7.24,0.0055],[7.28,0.0032],[7.33,0.0055],[7.37,0.0042],[7.41,0.0032],[7.45,0.0019],[7.49,8.3e-4],null,
[7.75,0.0042],[7.79,0.021],[7.83,0.036],[7.87,0.021],[7.92,0.012],[7.96,0.0055],[8.0,0.0024],[8.04,0.0014],[8.08,0.0019],[8.13,0.0042],[8.17,0.0071],[8.21,0.016],[8.25,0.012],[8.29,0.0055],[8.34,0.0042],[8.38,0.0094],[8.42,0.0055],[8.46,0.0032],[8.51,0.0042],[8.55,0.0032],[8.59,0.0042],[8.63,0.0019],[8.67,0.0012],[8.72,0.0032],[8.76,0.0019],null,
[8.95,0.0011],[8.99,0.0032],[9.04,0.0019],null,
[9.14,1.6e-4],[9.18,0.0019],[9.22,0.0094],[9.26,0.016],[9.31,0.028],[9.35,0.0094],[9.39,0.016],[9.43,0.0071],[9.47,0.012],[9.52,0.0055],[9.56,0.012],[9.6,0.0042],[9.64,0.0094],[9.68,0.0055],[9.73,0.012],[9.77,0.0082],[9.81,0.012],[9.85,0.0071],[9.89,0.016],[9.94,0.0042],null,
[10.02,0.0055],[10.06,0.012],[10.15,0.032],[10.23,0.047],[10.32,0.041],[10.41,0.036],[10.5,0.016],[10.58,0.0055],[10.63,0.0019],[10.66,5.6e-4],[10.68,3.7e-4],null,
[11.0,6.3e-4],[11.03,2.1e-4],null,
[11.15,4.8e-4],[11.17,1e-4],null,
[11.25,0.0071],[11.29,0.012],[11.33,0.0014],[11.37,1e-4],[11.4,0.0014],[11.43,0.0055],[11.48,0.0107],[11.54,0.0094],[11.58,0.0042],[11.62,0.0024],[11.67,0.0014],[11.71,8.3e-4],[11.75,4.8e-4],null,
[12.17,0.0019],[12.19,0.0016],null,
[12.27,4.8e-4],[12.32,0.0019],[12.38,0.0042],[12.42,0.0062],[12.46,0.0062],[12.5,0.0055],[12.54,0.0042],[12.58,0.0037],[12.63,0.0028],[12.67,0.0032],[12.71,0.0028],[12.75,0.0021],[12.79,0.0014],null,
[13.17,0.0024],[13.21,0.0042],[13.25,0.0094],[13.29,0.016],[13.34,0.021],[13.38,0.032],[13.42,0.041],[13.46,0.062],[13.5,0.032],[13.54,0.016],null,
[14.49,6.3e-4],[14.53,0.036],[14.59,0.041],[14.63,0.032],[14.67,0.016],[14.71,0.0042],[14.75,4.8e-4],[14.8,2.4e-4],null,
[15.32,0.0019],[15.36,0.054],[15.4,0.047],[15.44,0.021],[15.48,0.0071],[15.51,0.0019],[15.56,0.0014],[15.59,3.7e-4],[15.63,0.0028],[15.67,0.016],[15.71,0.012],[15.76,0.0071],[15.8,0.0042],[15.84,0.0014],null,
[16.02,8.3e-4],[16.06,0.0024],[16.1,0.0042],[16.15,0.0019],[16.19,0.0032],[16.23,0.0024],[16.27,0.0042],[16.32,0.0042],[16.36,0.0071],[16.4,0.0082],[16.44,0.0071],[16.48,0.0082],[16.53,0.0048],[16.57,0.0042],[16.61,0.0014],[16.65,9.6e-4],[16.69,4.8e-4],[16.74,2.1e-4],null,
[17.3,8.3e-4],[17.34,0.0024],[17.38,0.0042],[17.43,0.0024],[17.47,0.0042],[17.51,0.016],[17.55,0.071],[17.59,0.14],[17.63,0.27],[17.68,0.31],[17.72,0.24],[17.76,0.18],[17.8,0.107],[17.84,0.062],[17.88,0.016],[17.93,0.0055],[17.97,4.8e-4],[17.99,0.0014],null,
[18.05,0.0024],[18.09,0.0071],[18.14,0.028],[18.18,0.107],[18.22,0.18],[18.26,0.27],[18.3,0.24],[18.35,0.21],[18.39,0.24],[18.43,0.21],[18.47,0.16],[18.51,0.14],[18.55,0.12],[18.59,0.107],[18.64,0.047],[18.68,0.016],[18.72,0.0094],[18.76,0.0042],[18.8,0.0014],[18.85,4.2e-4],null,
[19.06,0.0042],[19.08,0.0062],[19.12,0.0019],[19.16,9.6e-4],null,
[19.18,0.0042],[19.22,0.0048],[19.26,0.0094],[19.3,0.016],[19.35,0.018],[19.39,0.028],[19.43,0.036],[19.47,0.062],null,
[19.6,0.18],[19.64,0.27],[19.68,0.31],null,
[20.51,0.062],[20.56,0.041],[20.6,0.032],[20.64,0.032],[20.68,0.021],[20.72,0.012],[20.76,0.0071],[20.81,0.0094],[20.85,0.0032],[20.89,0.0014],[20.93,2.8e-4],[20.97,2.1e-4],null,
[21.08,2.1e-4],[21.11,4.2e-4],[21.16,0.0042],[21.2,0.036],[21.24,0.062],[21.28,0.081],[21.32,0.14],[21.37,0.18],[21.41,0.21],[21.45,0.16],[21.49,0.14],[21.54,0.18],[21.58,0.081],[21.62,0.071],[21.66,0.081],[21.72,0.012],[21.77,0.0024],[21.81,9.6e-4],[21.85,2.8e-4],[21.89,1.9e-4],[21.93,2.1e-4]];

// ---------- panel (d): temperature (°C) and relative humidity (%) ----------
const temperature = [[0,-5.7],[0.04,-5.2],[0.13,-4.5],[0.21,-4.2],[0.29,-3.7],[0.38,-3.2],[0.46,-2.7],[0.55,-2.5],[0.63,-2.4],[0.7,-2.5],[0.74,-4.0],[0.8,-6.5],[0.87,-9.0],[0.93,-10.5],[0.99,-11.7],[1.03,-12.1],[1.07,-11.5],[1.1,-10.2],[1.14,-10.7],[1.18,-10.2],[1.22,-11.0],[1.26,-9.5],[1.31,-8.0],[1.35,-6.5],[1.39,-5.5],[1.43,-4.2],[1.47,-3.0],[1.52,-2.2],[1.56,-2.1],[1.64,-2.2],[1.73,-2.5],[1.81,-3.0],[1.89,-3.5],[1.98,-4.2],[2.02,-5.2],[2.06,-6.0],[2.15,-6.1],[2.21,-6.5],[2.27,-5.2],[2.33,-4.0],[2.4,-2.7],[2.47,-1.9],[2.53,-1.4],[2.59,-1.5],[2.65,-2.0],[2.74,-3.0],[2.8,-4.0],[2.86,-6.0],[2.91,-7.5],[2.95,-8.7],[2.99,-7.0],[3.03,-6.5],[3.07,-6.2],[3.16,-5.5],[3.24,-3.7],[3.33,-2.7],[3.41,-2.4],[3.49,-2.5],[3.58,-2.4],[3.66,-2.5],[3.75,-2.4],[3.81,-3.0],[3.87,-5.0],[3.92,-7.0],[3.96,-9.0],[4.0,-9.9],[4.04,-9.5],[4.08,-8.5],[4.15,-7.7],[4.21,-7.0],[4.25,-6.0],[4.32,-5.0],[4.38,-4.2],[4.44,-3.5],[4.51,-2.7],[4.57,-2.0],[4.63,-1.2],[4.69,-0.8],[4.76,-1.0],[4.84,-0.8],[4.93,-1.2],[5.01,-2.7],[5.09,-3.2],[5.18,-3.7],[5.26,-3.7],[5.35,-3.0],[5.39,-2.0],[5.45,-0.7],[5.52,-0.4],[5.6,-0.25],[5.68,-0.25],[5.77,0],[5.83,-0.25],[5.9,-1.2],[5.94,-3.5],[5.98,-5.5],[6.02,-6.1],[6.06,-5.0],[6.11,-4.7],[6.15,-4.5],[6.19,-4.2],[6.23,-4.5],[6.27,-3.5],[6.31,-2.7],[6.36,-1.7],[6.44,-1.0],[6.53,-0.7],[6.61,-0.6],[6.69,-1.2],[6.78,-1.7],[6.86,-2.7],[6.93,-4.2],[6.99,-6.1],[7.05,-6.2],[7.12,-6.1],[7.2,-6.0],[7.28,-4.5],[7.37,-4.0],[7.45,-3.5],[7.54,-2.7],[7.59,-2.5],[7.64,-3.0],[7.71,-3.7],[7.79,-4.2],[7.87,-4.5],[7.93,-5.0],[7.97,-6.2],[8.04,-5.5],[8.13,-5.0],[8.21,-4.4],[8.29,-4.0],[8.38,-3.7],[8.46,-3.5],[8.55,-3.4],[8.63,-3.2],[8.72,-3.2],[8.8,-3.5],[8.88,-4.2],[8.97,-5.0],[9.05,-5.2],[9.14,-5.0],[9.22,-4.2],[9.31,-3.5],[9.39,-3.2],[9.47,-3.0],[9.56,-2.9],[9.64,-3.0],[9.73,-3.2],[9.81,-3.5],[9.89,-4.2],[9.98,-5.2],[10.05,-7.0],[10.11,-7.2],[10.15,-6.5],[10.25,-6.0],[10.33,-5.0],[10.41,-4.2],[10.5,-3.5],[10.58,-3.2],[10.62,-2.7],[10.7,-2.7],[10.75,-2.6],[10.83,-2.7],[10.89,-2.5],[10.91,-2.7],null,
[11.1,-3.2],[11.17,-3.5],[11.25,-4.2],[11.29,-4.5],[11.33,-3.0],[11.42,-1.7],[11.5,-0.7],[11.57,-0.5],[11.62,-0.6],[11.71,-1.2],[11.79,-2.0],[11.87,-2.7],[11.96,-3.5],[12.04,-4.0],[12.13,-3.2],[12.21,-2.7],[12.29,-2.5],[12.38,-2.0],[12.46,-1.5],[12.54,-1.2],[12.63,-1.0],[12.71,-1.2],[12.79,-1.5],[12.88,-1.7],[12.96,-2.0],[13.0,-3.5],[13.09,-3.2],[13.17,-3.2],[13.25,-3.0],[13.34,-2.7],[13.42,-2.5],[13.5,-2.2],[13.59,-1.7],[13.67,-1.7],[13.75,-2.0],[13.84,-2.5],[13.92,-3.0],[14.0,-3.5],[14.09,-3.7],[14.17,-3.7],[14.25,-3.2],[14.34,-2.5],[14.42,-2.0],[14.5,-1.9],[14.59,-2.0],[14.67,-2.2],[14.75,-2.5],[14.84,-2.2],[14.92,-2.7],[15.01,-4.5],[15.09,-6.0],[15.15,-6.6],[15.21,-6.0],[15.3,-5.0],[15.38,-4.0],[15.46,-2.7],[15.55,-2.0],[15.63,-1.7],[15.71,-1.7],[15.8,-2.0],[15.84,-3.0],[15.88,-4.0],[15.92,-5.0],[15.96,-6.4],null,
[16.99,-6.1],[17.03,-7.7],[17.09,-8.0],[17.13,-7.7],[17.19,-9.2],[17.24,-8.0],[17.28,-5.5],[17.33,-3.0],[17.38,-1.5],[17.47,-0.9],[17.53,-0.6],[17.59,-1.0],[17.68,-0.85],[17.76,-0.85],[17.84,-1.5],[17.93,-2.2],[18.01,-3.0],[18.09,-4.0],[18.14,-4.5],[18.22,-3.7],[18.3,-2.7],[18.39,-2.0],[18.47,-1.5],[18.55,-1.0],[18.64,-0.5],[18.72,-0.7],[18.8,-1.5],[18.89,-3.0],[18.97,-5.0],[19.01,-6.5],[19.05,-8.5],[19.1,-9.5],[19.18,-9.7],[19.26,-9.0],[19.35,-8.0],[19.39,-6.5],[19.43,-5.2],[19.47,-4.0],[19.56,-2.5],[19.64,0],[19.68,0.4],[19.76,-0.5],[19.85,-0.25],[19.93,0],[20.01,0],[20.09,-0.25],[20.18,-0.5],[20.26,-0.7],[20.35,-0.5],[20.43,-0.25],[20.51,-0.4],[20.6,-0.5],[20.68,-0.6],[20.76,-0.7],[20.85,-1.0],[20.93,-1.7],[21.02,-1.5],[21.09,-1.0],[21.18,-2.0],[21.27,-2.2],[21.35,-1.7],[21.43,-0.7],[21.52,-0.5],[21.6,-0.5],[21.67,-1.0],[21.72,-2.5],[21.77,-4.0],[21.81,-4.5],[21.85,-5.0],[21.92,-4.2],[21.98,-5.0]];

const relHumidity = [[0,91],[0.08,90.8],[0.17,91.5],[0.23,92],[0.28,89],[0.34,90.5],[0.4,91],[0.46,92.5],[0.53,90],[0.59,91],[0.65,89],[0.72,88.5],[0.78,94],[0.84,96],[0.88,95],[0.95,94.5],[1.01,91],[1.07,90],[1.14,88],[1.2,87],[1.26,87.5],[1.31,86.5],[1.37,85.5],[1.43,83],[1.47,80],[1.52,82.5],[1.56,85],[1.6,88],[1.64,86],[1.73,84],[1.81,83.5],[1.89,82],[1.94,80],[1.99,80.5],[2.05,83],[2.11,86],[2.16,89],[2.21,89.2],[2.27,88],[2.33,87.5],[2.4,84.5],[2.44,80],[2.48,76],[2.53,72],[2.57,68.8],[2.61,74],[2.65,79],[2.69,84],[2.74,88.5],[2.82,89],[2.91,89.5],[2.95,92],[2.99,90],[3.03,88],[3.07,87.5],[3.16,86.5],[3.24,85],[3.33,82.5],[3.37,81],[3.41,80],[3.45,81.5],[3.49,84.5],[3.56,88],[3.62,90.5],[3.68,91.5],[3.75,92],[3.83,92.5],[3.9,93],[3.96,94],[4.02,94.5],[4.04,92],[4.08,94],[4.12,91],[4.18,91.5],[4.25,90],[4.29,91],[4.35,88.5],[4.42,89],[4.46,86],[4.51,84],[4.55,87],[4.59,83],[4.63,88],[4.67,84],[4.72,85],[4.76,86],[4.83,86.5],[4.88,88],[4.94,89],[5.01,88.5],[5.08,90],[5.14,89],[5.2,89.5],[5.26,90.5],[5.33,88.5],[5.39,89.5],[5.45,92],[5.5,90],[5.56,89.5],[5.62,87.5],[5.68,86.5],[5.75,87],[5.81,86],[5.87,87],[5.94,85],[6.0,83],[6.06,85],[6.12,82.5],[6.17,85],[6.23,86.5],[6.29,84],[6.36,88],[6.42,87],[6.48,88.5],[6.54,90],[6.61,92],[6.68,93.5],[6.74,94],[6.8,93],[6.86,92.5],[6.93,91.5],[6.99,91],[7.05,91],[7.12,89.5],[7.18,88],[7.24,86.5],[7.28,83.5],[7.33,82.5],[7.37,83],[7.41,82.5],[7.45,83],[7.49,82],[7.54,82.5],[7.6,82],[7.66,82.5],[7.71,82],[7.75,81.5],[7.79,81],[7.83,81.5],[7.87,81],[7.92,80],[7.96,79.5],[8.0,84],[8.04,86.5],[8.08,87],[8.13,84.5],[8.17,85.5],[8.21,83.5],[8.25,81.5],[8.29,77],[8.34,78.5],[8.38,77.5],[8.42,79],[8.46,77.5],[8.51,75.5],[8.55,78],[8.59,75],[8.63,77.5],[8.67,76],[8.72,73],[8.76,70],[8.8,74],[8.84,80],[8.88,84],[8.93,87],[8.97,88],[9.01,86.5],[9.05,84],[9.1,82.5],[9.14,83],[9.18,80],[9.22,79.5],[9.26,80.5],[9.31,79],[9.35,76],[9.39,74],[9.43,72],[9.47,69.5],[9.52,67],[9.56,66],[9.6,68],[9.64,68.5],[9.68,67],[9.73,68.5],[9.77,66],[9.81,71],[9.85,72],[9.89,71.5],[9.94,70],[9.98,70],[10.02,74],[10.06,79],[10.11,81],[10.15,83],[10.19,82],[10.23,80],[10.27,79],[10.32,78],[10.36,79],[10.4,77],[10.44,78],[10.48,76.5],[10.54,75.8],[10.6,80],[10.66,82],[10.73,83],[10.76,86],[10.81,89.5],[10.85,89],[10.87,87],[10.91,85],null,
[11.1,89.5],[11.15,88],[11.21,89],[11.25,90],[11.32,89],[11.37,89],[11.43,87],[11.5,88],[11.57,86.5],[11.62,87],[11.67,85.5],[11.71,84],[11.75,84.5],[11.79,82.5],[11.83,83.5],[11.87,81.5],[11.92,84],[11.96,85],[12.0,85.5],[12.04,84.5],[12.08,85],[12.13,85.5],[12.17,84],[12.21,85],[12.27,84.5],[12.32,82],[12.38,79],[12.43,78],[12.5,77],[12.54,75.6],[12.58,77],[12.63,78],[12.67,79],[12.71,79.5],[12.75,81],[12.79,82.5],[12.83,84],[12.88,85],[12.92,85.5],[12.96,86],[13.0,86.5],[13.04,86.5],[13.09,87],[13.13,87.5],[13.17,88],[13.21,88.5],[13.25,89],[13.29,89],[13.34,89.5],[13.38,91.5],[13.42,92],[13.46,92.5],[13.5,91.5],[13.54,90],[13.59,90.5],[13.63,92],[13.67,91],[13.71,91.5],[13.75,92.5],[13.79,91],[13.84,88.5],[13.88,88],[13.92,89],[13.96,87.5],[14.0,88.5],[14.05,89],[14.09,90],[14.13,91],[14.17,92],[14.21,92.8],[14.25,92.5],[14.3,92.2],[14.34,91.5],[14.38,90.5],[14.42,89],[14.46,86],[14.5,83],[14.55,84.5],[14.59,82.5],[14.63,83],[14.67,84],[14.71,85.5],[14.75,86.5],[14.8,85.5],[14.84,86.5],[14.88,85.5],[14.92,86.5],[14.96,89],[15.01,86.5],[15.05,84],[15.09,83],[15.13,82],[15.17,84.5],[15.21,85],[15.26,82.5],[15.3,82],[15.34,84],[15.38,85.5],[15.42,83.5],[15.46,79],[15.51,77],[15.55,78],[15.59,77.5],[15.63,79],[15.67,80],[15.71,82.5],[15.76,85],[15.8,87.5],[15.84,85.5],[15.88,84],[15.92,86.5],[15.96,87],null,
[16.99,87],[17.03,84.5],[17.08,85],[17.11,83],[17.14,83.5],[17.18,81.5],[17.22,82],[17.26,79],[17.3,80.5],[17.34,77],[17.38,73],[17.43,71.5],[17.47,71],[17.51,71.5],[17.55,74],[17.59,79],[17.63,84],[17.68,87],[17.72,88.5],[17.76,87.5],[17.8,89.5],[17.84,93],[17.88,90],[17.93,91.5],[17.97,91],[18.01,92],[18.05,90.5],[18.09,90],[18.14,89],[18.18,88.5],[18.22,87],[18.26,84.5],[18.3,83],[18.35,80],[18.39,77],[18.43,79.5],[18.47,80],[18.51,78.5],[18.55,79],[18.59,77],[18.64,79.5],[18.68,77],[18.72,78.5],[18.76,83],[18.8,84.5],[18.85,85.5],[18.89,86.5],[18.93,87],[18.97,88],[19.01,87.5],[19.05,86.5],[19.1,85],[19.14,83.5],[19.18,82.5],[19.22,81],[19.26,79.5],[19.3,78.5],[19.35,78],[19.39,79],[19.43,77],[19.47,74],[19.51,75.5],[19.56,76],[19.6,75.5],[19.64,81],[19.68,88],[19.72,96.5],[19.76,96],[19.8,95.5],[19.85,95.5],[19.89,95],[19.93,94.5],[19.97,94],[20.01,94],[20.05,92],[20.09,91],[20.14,90],[20.18,89],[20.22,87],[20.26,86],[20.3,85.5],[20.35,86.5],[20.39,88],[20.43,89.5],[20.47,90.5],[20.51,89],[20.56,90],[20.6,88.5],[20.64,88],[20.68,89],[20.72,88],[20.76,88],[20.81,87],[20.85,86],[20.89,84.5],[20.93,83.5],[20.97,85],[21.02,87],[21.06,88],[21.09,87.5],[21.14,89.5],[21.18,91],[21.22,92],[21.27,94],[21.31,94.5],[21.35,91],[21.39,88],[21.43,86.5],[21.47,85],[21.52,87],[21.56,85.5],[21.6,87.5],[21.64,89],[21.68,88],[21.72,90],[21.77,91],[21.81,92],[21.85,91.5],[21.89,92],[21.93,91],[21.98,91.2]];

// ---------- rendering ----------
const FONT = 'DejaVu Sans';
const AX = '#262626';
const GRIDC = '#dedede';
const GREEN = '#00ee00';
const L = 112, W = 933;
const grids = [{top:36,height:142},{top:222,height:143.5},{top:408,height:143.5},{top:594,height:143.5}];

function prep(a){ return a.map((p,i)=> p===null ? [a[i-1][0]+0.001,'-'] : p); }

const subRich = {
  n:{fontFamily:FONT,fontSize:12,lineHeight:14,verticalAlign:'top',color:'#000'},
  sub:{fontFamily:FONT,fontSize:8.5,lineHeight:9,padding:[7,0,0,0],verticalAlign:'top',color:'#000'}
};
const legendText = {
  'measured':'{n|measured H}{sub|2}{n|SO}{sub|4}{n| conc.}',
  'estimated':'{n|estimated H}{sub|2}{n|SO}{sub|4}{n| conc.}',
  'estimatedRec':'{n|estimated H}{sub|2}{n|SO}{sub|4}{n| conc. incl. ion recombin.}',
  'hso4':'{n|HSO}{sub|4}{n|-}',
  'h2so4hso4':'{n|H}{sub|2}{n|SO}{sub|4}{n|·HSO}{sub|4}{n|-}',
  'h2so4x2':'{n|(H}{sub|2}{n|SO}{sub|4}{n|)}{sub|2}{n|·HSO}{sub|4}{n|-}',
  'h2so4x3':'{n|(H}{sub|2}{n|SO}{sub|4}{n|)}{sub|3}{n|·HSO}{sub|4}{n|-}',
  'nh3':'{n|NH}{sub|3}{n|(H}{sub|2}{n|SO}{sub|4}{n|)}{sub|3}{n|·HSO}{sub|4}{n|-}'
};

const labRich = {
  b:{fontFamily:FONT,fontSize:13,lineHeight:16,verticalAlign:'bottom',color:AX},
  s:{fontFamily:FONT,fontSize:9,lineHeight:9,verticalAlign:'top',color:AX}
};
function logFmt(v){
  const lg = Math.log10(v), e = Math.round(lg);
  if (Math.abs(lg-e) > 0.01) return '';
  return '{b|10}{s|' + e + '}';
}
const nameRich = {
  n:{fontFamily:FONT,fontSize:14.5,lineHeight:17,verticalAlign:'bottom',color:AX},
  s:{fontFamily:FONT,fontSize:10,lineHeight:10,verticalAlign:'top',color:AX}
};

const xAxis = [], yAxis = [];
grids.forEach((g,gi)=>{
  xAxis.push({gridIndex:gi,type:'value',min:0,max:22,interval:2,position:'bottom',
    axisLine:{show:false,onZero:false},axisTick:{inside:true,length:6,lineStyle:{color:AX,width:1}},
    axisLabel:{fontFamily:FONT,fontSize:13,color:AX,margin:5,formatter:v=>dateLabels[Math.round(v/2)]},
    splitLine:{show:true,lineStyle:{color:GRIDC,width:1}},
    name: gi===3 ? 'date (dd.mm)' : '', nameLocation:'middle', nameGap:13, nameMoveOverlap:false,
    nameTextStyle:{fontFamily:FONT,fontSize:14.5,color:AX}});
  xAxis.push({gridIndex:gi,type:'value',min:0,max:22,interval:2,position:'top',
    axisLine:{show:false,onZero:false},axisTick:{inside:true,length:6,lineStyle:{color:AX,width:1}},
    axisLabel:{show:false},splitLine:{show:false}});
});
function logY(gi,min,max,name){
  yAxis.push({gridIndex:gi,type:'log',logBase:10,min:min,max:max,interval:2,position:'left',
    axisLine:{show:false,onZero:false},axisTick:{inside:true,length:6,lineStyle:{color:AX,width:1}},
    axisLabel:{formatter:logFmt,rich:labRich,margin:5},
    splitLine:{show:true,lineStyle:{color:GRIDC,width:1}},
    name:name,nameLocation:'middle',nameRotate:90,nameGap:29.5,nameMoveOverlap:false,nameTextStyle:{rich:nameRich}});
  yAxis.push({gridIndex:gi,type:'log',logBase:10,min:min,max:max,interval:2,position:'right',
    axisLine:{show:false,onZero:false},axisTick:{inside:true,length:6,lineStyle:{color:AX,width:1}},
    axisLabel:{show:false},splitLine:{show:false}});
}
logY(0,1e4,5.5e7,'{n|molecules cm}{s|-3}');
logY(1,1e-4,5,'{n|signal (ions s}{s|-1}{n|)}');
logY(2,1e-4,5,'{n|signal (ions s}{s|-1}{n|)}');
yAxis.push({gridIndex:3,type:'value',min:-15,max:5,interval:5,position:'left',
  axisLine:{show:false,onZero:false},axisTick:{inside:true,length:6,lineStyle:{color:AX,width:1}},
  axisLabel:{fontFamily:FONT,fontSize:13,color:AX,margin:6},
  splitLine:{show:true,lineStyle:{color:GRIDC,width:1}},
  name:'Temp. (° C)',nameLocation:'middle',nameRotate:90,nameGap:29.5,nameMoveOverlap:false,
  nameTextStyle:{fontFamily:FONT,fontSize:14.5,color:AX}});
yAxis.push({gridIndex:3,type:'value',min:60,max:100,interval:10,position:'right',
  axisLine:{show:true,onZero:false,lineStyle:{color:GREEN,width:1}},axisTick:{inside:true,length:6,lineStyle:{color:GREEN,width:1}},
  axisLabel:{fontFamily:FONT,fontSize:13,color:GREEN,margin:5},
  splitLine:{show:false},
  name:'Rel. humidity (%)',nameLocation:'middle',nameRotate:90,nameGap:34,nameMoveOverlap:false,
  nameTextStyle:{fontFamily:FONT,fontSize:14.5,color:GREEN}});

// minor log grid positions (2..9 x 10^n and the unlabeled decades)
function minorTicks(e0,e1,max){
  const out=[];
  for(let e=e0;e<=e1;e++) for(let m=1;m<=9;m++){
    const v=m*Math.pow(10,e);
    if(v>max*1.0001) continue;
    if(m===1 && (e-e0)%2===0) continue;
    out.push([0,v]);
  }
  return out;
}
function minorRender(params,api){
  const v=api.value(1);
  const y=api.coord([0,v])[1];
  const cs=params.coordSys;
  if(y<cs.y-0.5||y>cs.y+cs.height+0.5) return null;
  return {type:'group',children:[
    {type:'line',shape:{x1:cs.x,y1:y,x2:cs.x+cs.width,y2:y},style:{stroke:'#cfcfcf',lineWidth:0.7,lineDash:[1,2]},silent:true},
    {type:'line',shape:{x1:cs.x,y1:y,x2:cs.x+3.5,y2:y},style:{stroke:AX,lineWidth:0.8},silent:true},
    {type:'line',shape:{x1:cs.x+cs.width-3.5,y1:y,x2:cs.x+cs.width,y2:y},style:{stroke:AX,lineWidth:0.8},silent:true}
  ]};
}
function minorSeries(gi,e0,e1,max){
  return {type:'custom',xAxisIndex:gi*2,yAxisIndex:gi*2,data:minorTicks(e0,e1,max),
    encode:{x:0,y:1},renderItem:minorRender,silent:true,z:1,clip:false};
}

function line(name,data,gi,yi,color,type,width){
  return {name:name,type:'line',xAxisIndex:gi*2,yAxisIndex:yi,data:prep(data),
    symbol:'none',showSymbol:false,connectNulls:false,clip:true,z:3,
    lineStyle:{color:color,width:width||1.5,type:type||'solid'},itemStyle:{color:color},
    emphasis:{disabled:true},animation:false};
}
const DASHDOT=[5,2,1.5,2], DOT=[1.6,1.6];

const series = [
  minorSeries(0,4,7,5.5e7), minorSeries(1,-4,0,5), minorSeries(2,-4,0,5),
  line('measured',measuredH2SO4,0,0,'#000000'),
  line('estimated',estimatedH2SO4,0,0,'#4dbeee'),
  line('estimatedRec',estimatedRecH2SO4,0,0,'#ff1010',DASHDOT),
  line('hso4',hso4,1,2,'#4f86ee'),
  line('h2so4hso4',h2so4Hso4,1,2,'#ee4a1c',DASHDOT),
  line('h2so4x2',h2so4x2Hso4,1,2,'#ff9a10',DOT),
  line('h2so4x3',h2so4x3Hso4,2,4,'#1e9ff2'),
  line('nh3',nh3H2so4x3Hso4,2,4,'#ff6a2a',DASHDOT),
  line('temp',temperature,3,6,'#000000'),
  line('rh',relHumidity,3,7,'#00ff00')
];

function legend(names,top){
  return {data:names,left:119,top:top,orient:'horizontal',itemWidth:27,itemHeight:12,itemGap:3,
    padding:[4,5,4,3],borderColor:AX,borderWidth:1,backgroundColor:'#ffffff',selectedMode:false,
    itemStyle:{opacity:0},
    formatter:n=>legendText[n],textStyle:{rich:subRich,fontFamily:FONT,fontSize:12}};
}

const option = {
  animation:false,
  backgroundColor:'#ffffff',
  grid: grids.map(g=>({left:L,width:W,top:g.top,height:g.height,show:true,borderColor:AX,borderWidth:1,
    backgroundColor:'transparent',containLabel:false,outerBoundsMode:'none'})),
  xAxis:xAxis, yAxis:yAxis, series:series,
  legend:[legend(['measured','estimated','estimatedRec'],44),
          legend(['hso4','h2so4hso4','h2so4x2'],333),
          legend(['h2so4x3','nh3'],416)],
  graphic:[
    {type:'text',x:578.5,y:24,style:{text:'Neumayer Station III, Antarctica: 24 Dec 2018 - 15 Jan 2019',font:'bold 14px "DejaVu Sans"',fill:'#000',textAlign:'center',textVerticalAlign:'middle'}},
    {type:'text',x:11,y:47,style:{text:'(a)',font:'18px "DejaVu Sans"',fill:'#000',textVerticalAlign:'middle'}},
    {type:'text',x:11,y:232,style:{text:'(b)',font:'18px "DejaVu Sans"',fill:'#000',textVerticalAlign:'middle'}},
    {type:'text',x:11,y:418,style:{text:'(c)',font:'18px "DejaVu Sans"',fill:'#000',textVerticalAlign:'middle'}},
    {type:'text',x:11,y:604,style:{text:'(d)',font:'18px "DejaVu Sans"',fill:'#000',textVerticalAlign:'middle'}}
  ]
};
const chart = echarts.init(document.getElementById('c'),null,{renderer:'canvas'});
chart.setOption(option);
</script></body></html>
